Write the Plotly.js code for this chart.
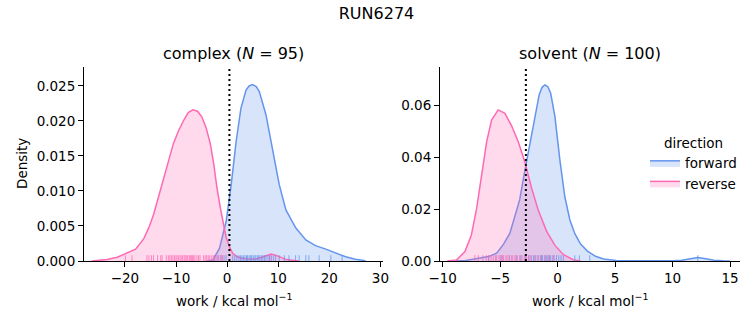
<!DOCTYPE html>
<html>
<head>
<meta charset="utf-8">
<script src="https://cdn.plot.ly/plotly-3.0.1.min.js"></script>
<style>html,body{margin:0;padding:0;background:#fff;}#chart{width:753px;height:325px;}</style>
</head>
<body>
<div id="chart"></div>
<script>
// ---- data ----
const suptitle = "RUN6274";
const panelTitles = ["complex (<i>N</i> = 95)", "solvent (<i>N</i> = 100)"];
const directions = ["forward", "reverse"];

// complex KDE (work, density)
const complexFwdX = [-4.0, -2.8, -1.5, -0.2, 0.8, 1.75, 2.7, 3.7, 4.3, 5.0, 5.7, 6.3, 7.6, 8.9, 10.2, 11.5, 13.45, 15.4, 17.3, 19.3, 21.2, 23.2, 25.1, 27.1];
const complexFwdY = [0.0, 0.00014, 0.0018, 0.0056, 0.0109, 0.017, 0.0218, 0.0244, 0.0250, 0.0252, 0.0249, 0.0242, 0.0209, 0.0161, 0.0109, 0.0073, 0.0047, 0.003, 0.0022, 0.0017, 0.0012, 0.0006, 0.00024, 0.00005];
const complexRevX = [-26.5, -25.4, -23.5, -21.5, -19.6, -17.9, -16.3, -15.3, -14.4, -13.4, -12.4, -11.4, -10.5, -9.5, -8.5, -7.6, -6.7, -5.8, -4.95, -4.1, -3.3, -2.6, -2.0, -1.3, -0.7, -0.2, 0.6, 1.1, 2.0, 3.0, 4.3, 5.6, 6.6, 7.6, 8.6, 9.6, 10.5, 11.6, 12.8, 14.0];
const complexRevY = [0.0, 0.00005, 0.0002, 0.00053, 0.0011, 0.0017, 0.0032, 0.0048, 0.0066, 0.0092, 0.012, 0.0145, 0.0168, 0.0186, 0.0201, 0.0212, 0.0216, 0.0214, 0.0206, 0.019, 0.0168, 0.0138, 0.0105, 0.0075, 0.0050, 0.0034, 0.0018, 0.0011, 0.0006, 0.0004, 0.0003, 0.0003, 0.0005, 0.0008, 0.001, 0.0008, 0.0005, 0.0002, 0.0001, 0.0];

// solvent KDE (work, density)
const solventFwdX = [-9.0, -8.0, -7.0, -6.0, -5.3, -4.7, -4.15, -3.7, -3.3, -2.84, -2.4, -1.95, -1.6, -1.35, -1.1, -0.85, -0.6, -0.23, 0.2, 0.63, 1.07, 1.5, 2.0, 2.6, 3.3, 4.0, 5.1, 6.3, 8.0, 10.0, 10.8, 11.5, 12.2, 12.9, 13.6, 14.4, 15.0];
const solventFwdY = [0.0, 0.0002, 0.001, 0.0017, 0.003, 0.0065, 0.0107, 0.017, 0.0235, 0.035, 0.0455, 0.057, 0.064, 0.0668, 0.0677, 0.067, 0.0645, 0.0555, 0.0388, 0.0247, 0.0158, 0.0105, 0.0065, 0.0038, 0.0018, 0.0008, 0.0002, 0.00005, 0.0, 0.00005, 0.0003, 0.0009, 0.0013, 0.0009, 0.0003, 0.00005, 0.0];
const solventRevX = [-9.6, -8.8, -8.06, -7.5, -7.04, -6.6, -6.17, -5.74, -5.17, -4.58, -4.0, -3.43, -2.84, -2.26, -1.68, -0.96, -0.23, 0.49, 1.36, 2.0];
const solventRevY = [0.0, 0.0004, 0.0036, 0.01, 0.0203, 0.0331, 0.0459, 0.0542, 0.0581, 0.0568, 0.052, 0.046, 0.038, 0.028, 0.0195, 0.0115, 0.006, 0.0025, 0.0005, 0.0];

// rug samples (work values)
const complexFwdRug = [-2.4, -1.8, -1.2, -0.6, -0.2, 1.1, 1.5, 1.9, 2.3, 2.6, 2.9, 3.2, 3.5, 3.8, 4.0, 4.3, 4.6, 4.8, 5.1, 5.3, 5.6, 5.9, 6.1, 6.4, 6.7, 7.0, 7.3, 7.6, 8.0, 8.3, 8.7, 9.1, 9.5, 10.2, 11.2, 12.1, 13.4, 14.1, 15.4, 16.0, 18.0, 20.3, 22.5];
const complexRevRug = [-19.9, -18.6, -15.7, -15.3, -14.8, -14.4, -13.6, -13.0, -12.7, -11.9, -11.5, -11.2, -10.9, -10.6, -10.3, -10.0, -9.8, -9.5, -9.2, -9.0, -8.7, -8.4, -8.2, -7.9, -7.7, -7.4, -7.2, -7.0, -6.8, -6.6, -6.3, -5.9, -5.6, -5.3, -4.6, -4.3, -4.0, -3.7, -3.4, -3.0, -2.7, -2.4, -2.0, -1.6, -1.2, -0.9, 8.4];
const solventFwdRug = [-6.0, -4.9, -4.2, -3.6, -3.2, -2.8, -2.5, -2.3, -2.1, -1.9, -1.7, -1.5, -1.4, -1.3, -1.1, -1.0, -0.9, -0.7, -0.6, -0.4, -0.3, -0.1, 0.1, 0.3, 0.5, 1.5, 1.9, 2.8, 12.2];
const solventRevRug = [-7.2, -6.9, -6.5, -6.2, -6.0, -5.8, -5.6, -5.4, -5.3, -5.1, -5.0, -4.8, -4.7, -4.5, -4.4, -4.2, -4.0, -3.9, -3.7, -3.5, -3.3, -3.1, -2.9, -2.7, -2.5, -2.3, -2.0, -1.7, -1.4, -1.1, -0.8, -0.4];

// reference lines (work)
const refLines = [0.45, -2.76];

// tick values
const complexXTicks = [-20, -10, 0, 10, 20, 30];
const complexYTicks = [0, 0.005, 0.01, 0.015, 0.02, 0.025];
const solventXTicks = [-10, -5, 0, 5, 10, 15];
const solventYTicks = [0, 0.02, 0.04, 0.06];

// ---- styling / layout ----
const W = 753, H = 325;
const FONT = "DejaVu Sans, Liberation Sans, sans-serif";
const BLUE = "#6495ED", PINK = "#FF69B4";
const BLUE_FILL = "rgba(100,149,237,0.25)", PINK_FILL = "rgba(255,105,180,0.25)";
const plotTop = 67, plotBottom = 261;
const yDom = [1 - plotBottom / H, 1 - plotTop / H];
const x1Dom = [84 / W, 383 / W];
const x2Dom = [440 / W, 740 / W];
const y1Range = [0, 0.02771];
const y2Range = [0, 0.07462];
const x1Range = [-28.0, 30.5];
const x2Range = [-10.23, 15.87];
const rugFrac = 0.025;
const plotH = plotBottom - plotTop;

function kde(x, y, xa, ya, color, fill, name, show) {
  return {x: x, y: y, xaxis: xa, yaxis: ya, type: "scatter", mode: "lines",
    fill: "tozeroy", fillcolor: fill, line: {color: color, width: 1.5},
    name: name, legendgroup: name, showlegend: show, hoverinfo: "skip"};
}
function rug(x, xa, ya, yr, color) {
  const yc = yr[0] + (yr[1] - yr[0]) * rugFrac / 2;
  return {x: x, y: x.map(() => yc), xaxis: xa, yaxis: ya, type: "scatter", mode: "markers",
    marker: {symbol: "line-ns", size: rugFrac * plotH, line: {color: color, width: 1}},
    opacity: 0.75, showlegend: false, hoverinfo: "skip", cliponaxis: false};
}

const traces = [
  kde(complexFwdX, complexFwdY, "x", "y", BLUE, BLUE_FILL, directions[0], true),
  kde(complexRevX, complexRevY, "x", "y", PINK, PINK_FILL, directions[1], true),
  kde(solventFwdX, solventFwdY, "x2", "y2", BLUE, BLUE_FILL, directions[0], false),
  kde(solventRevX, solventRevY, "x2", "y2", PINK, PINK_FILL, directions[1], false),
  rug(complexFwdRug, "x", "y", y1Range, BLUE),
  rug(complexRevRug, "x", "y", y1Range, PINK),
  rug(solventFwdRug, "x2", "y2", y2Range, BLUE),
  rug(solventRevRug, "x2", "y2", y2Range, PINK)
];

const axisBase = {showline: true, linecolor: "#000", linewidth: 1, mirror: false,
  ticks: "outside", ticklen: 5, tickwidth: 1, tickcolor: "#000",
  showgrid: false, zeroline: false, fixedrange: true,
  tickfont: {family: FONT, size: 13.5, color: "#000"}};

const layout = {
  width: W, height: H,
  margin: {l: 0, r: 0, t: 0, b: 0},
  paper_bgcolor: "#fff", plot_bgcolor: "rgba(0,0,0,0)",
  font: {family: FONT, color: "#000"},
  title: {text: suptitle, x: 0.5, xanchor: "center", y: 1 - 13 / H, yanchor: "middle",
    font: {family: FONT, size: 16, color: "#000"}},
  xaxis: Object.assign({}, axisBase, {domain: x1Dom, range: x1Range, tickvals: complexXTicks, anchor: "y"}),
  yaxis: Object.assign({}, axisBase, {domain: yDom, range: y1Range, tickvals: complexYTicks, tickformat: ".3f", anchor: "x"}),
  xaxis2: Object.assign({}, axisBase, {domain: x2Dom, range: x2Range, tickvals: solventXTicks, anchor: "y2"}),
  yaxis2: Object.assign({}, axisBase, {domain: yDom, range: y2Range, tickvals: solventYTicks, tickformat: ".2f", anchor: "x2"}),
  showlegend: true,
  legend: {x: 645 / W, xanchor: "left", y: 1 - 130 / H, yanchor: "top",
    bgcolor: "rgba(0,0,0,0)", borderwidth: 0,
    font: {family: FONT, size: 13.5, color: "#000"},
    title: {text: "direction", side: "top center", font: {family: FONT, size: 13.5, color: "#000"}},
    itemwidth: 30, tracegroupgap: 0},
  shapes: refLines.map((v, i) => ({type: "line", xref: i === 0 ? "x" : "x2", yref: i === 0 ? "y domain" : "y2 domain",
    x0: v, x1: v, y0: 0, y1: 1, line: {color: "#000", width: 2, dash: "2px,3px"}, layer: "above"})),
  annotations: [
    {text: panelTitles[0], xref: "paper", yref: "paper", x: (x1Dom[0] + x1Dom[1]) / 2, y: 1 - 54 / H,
      xanchor: "center", yanchor: "middle", showarrow: false, font: {family: FONT, size: 16, color: "#000"}},
    {text: panelTitles[1], xref: "paper", yref: "paper", x: (x2Dom[0] + x2Dom[1]) / 2, y: 1 - 54 / H,
      xanchor: "center", yanchor: "middle", showarrow: false, font: {family: FONT, size: 16, color: "#000"}},
    {text: "Density", xref: "paper", yref: "paper", x: 22 / W, y: (yDom[0] + yDom[1]) / 2,
      xanchor: "center", yanchor: "middle", textangle: -90, showarrow: false, font: {family: FONT, size: 13.5, color: "#000"}},
    {text: "work / kcal mol<sup>−1</sup>", xref: "paper", yref: "paper", x: (x1Dom[0] + x1Dom[1]) / 2, y: 1 - 300 / H,
      xanchor: "center", yanchor: "middle", showarrow: false, font: {family: FONT, size: 13.5, color: "#000"}},
    {text: "work / kcal mol<sup>−1</sup>", xref: "paper", yref: "paper", x: (x2Dom[0] + x2Dom[1]) / 2, y: 1 - 300 / H,
      xanchor: "center", yanchor: "middle", showarrow: false, font: {family: FONT, size: 13.5, color: "#000"}}
  ]
};

Plotly.newPlot("chart", traces, layout, {staticPlot: true, displayModeBar: false});
</script>
</body>
</html>
